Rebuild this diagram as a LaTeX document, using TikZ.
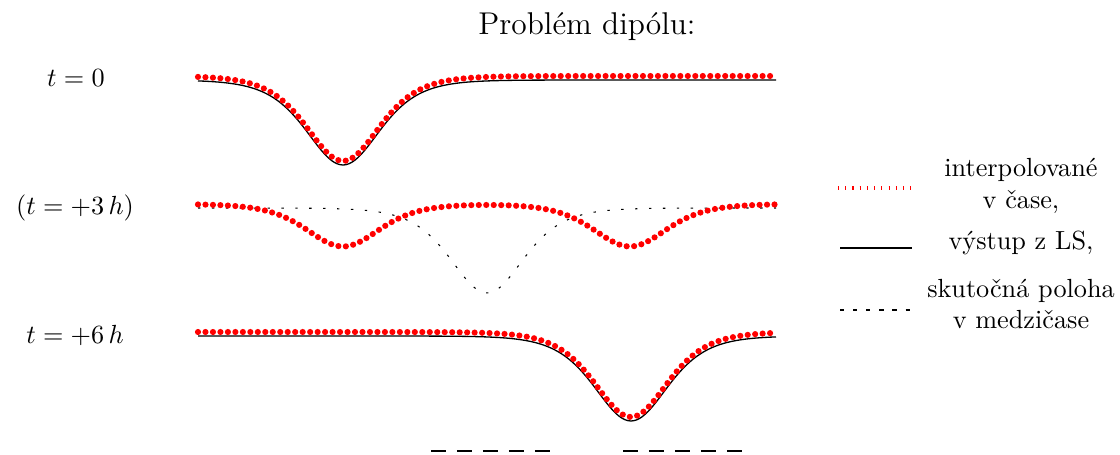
\documentclass[tikz,border=0pt]{standalone}
\usepackage{tikz}
\usetikzlibrary{positioning}

\begin{document}
\begin{tikzpicture}[x=0.013393cm, y=-0.013393cm,
  declare function={dip(\x,\c)=1/cosh((\x-\c)/49)/cosh((\x-\c)/49);},
  interp/.style={red, line width=2.35pt, line cap=round, dash pattern=on 0pt off 2.85pt},
  lsout/.style={black, line width=0.5pt},
  realpos/.style={black, line width=0.4pt, dash pattern=on 0.9pt off 4.4pt}]
\useasboundingbox (0,0) rectangle (1120,455);
% nadpis
\node[font=\large] (title) at (587,27) {Problém dipólu:};
% casy
\node (t0) at (76,78) {$t=0$};
\node (t3) at (75,208) {$(t=+3\,h)$};
\node (t6) at (75,335) {$t=+6\,h$};
% t = 0
\draw[lsout] plot[domain=198:776, samples=200, smooth] (\x,{80+85*dip(\x,343)});
\draw[interp] plot[domain=198:776, samples=200, smooth] (\x,{76+85*dip(\x,343)});
% t = +3h: skutocna poloha a interpolacia
\draw[realpos] plot[domain=198:776, samples=200, smooth] (\x,{208+85*dip(\x,487)});
\draw[interp] plot[domain=198:776, samples=200, smooth] (\x,{204+42.5*dip(\x,343)+42.5*dip(\x,630)});
% t = +6h
\draw[lsout] plot[domain=198:776, samples=200, smooth] (\x,{336+85*dip(\x,631)});
\draw[interp] plot[domain=198:776, samples=200, smooth] (\x,{332+85*dip(\x,631)});
% legenda
\node[align=center] (lgi) at (1021,186) {interpolované\\v čase,};
\node (lgs) at (1021,243) {výstup z LS,};
\node[align=center] (lgr) at (1021,304) {skutočná poloha\\v medzičase};
\draw[red, line width=1.9pt, dash pattern=on 0.4pt off 2.36pt] (838,188) -- (912,188);
\draw[lsout] (840,248) -- (912,248);
\draw[black, line width=0.4pt, dash pattern=on 1.6pt off 3.4pt] (840,310) -- (912,310);
% ciarky dole
\foreach \xs in {431, 623}{
  \draw[line width=0.5pt, dash pattern=on 5.7pt off 4.2pt] (\xs,451) -- (\xs+119,451);
}
\end{tikzpicture}
\end{document}
